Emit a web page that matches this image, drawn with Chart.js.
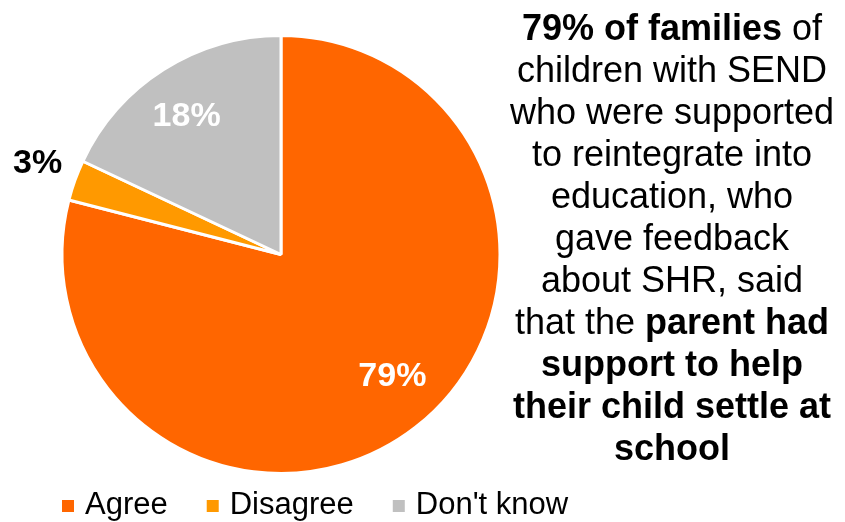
<!DOCTYPE html>
<html>
<head>
<meta charset="utf-8">
<script src="https://cdn.jsdelivr.net/npm/chart.js@4/dist/chart.umd.min.js"></script>
<style>
    html, body { margin: 0; padding: 0; background: #fff; overflow: hidden; }
    #wrap { position: relative; width: 845px; height: 522px; }
    #note {
        position: absolute; left: 502px; top: 7px; width: 340px;
        text-align: center; font-family: 'Liberation Sans', Arial, sans-serif;
        font-size: 36px; line-height: 42px; color: #000;
    }
    #note b { font-weight: bold; }
</style>
</head>
<body>
<div id="wrap">
    <canvas id="myChart" width="845" height="522"></canvas>
    <div id="note">
        <b>79% of families</b> of<br>children with SEND<br>who were supported<br>to reintegrate into<br>education, who<br>gave feedback<br>about SHR, said<br>that the <b>parent had<br>support to help<br>their child settle at<br>school</b>
    </div>
</div>
<script>
// данные
var categories = ['Agree', 'Disagree', "Don't know"];
var values = [79, 3, 18];
var labels = ['79%', '3%', '18%'];
var colors = ['#FF6600', '#FF9900', '#C0C0C0'];

var font = "'Liberation Sans', Arial, sans-serif";

// подписи на секторах и легенда
var pieText = {
    id: 'pieText',
    afterDraw: function(chart) {
        var ctx = chart.ctx;
        var arcs = chart.getDatasetMeta(0).data;
        // небольшие сдвиги подписей, как в Excel
        var shift = [[8, -11], [6, -1], [-4, 5]];
        ctx.save();
        ctx.font = 'bold 34px ' + font;
        ctx.textAlign = 'center';
        ctx.textBaseline = 'middle';
        arcs.forEach(function(arc, i) {
            var mid = (arc.startAngle + arc.endAngle) / 2;
            var outside = values[i] < 5;
            var r = arc.outerRadius * (outside ? 1.21 : 0.77);
            ctx.fillStyle = outside ? '#000' : '#fff';
            ctx.fillText(labels[i], arc.x + Math.cos(mid) * r + shift[i][0],
                arc.y + Math.sin(mid) * r + shift[i][1]);
        });

        // легенда
        ctx.font = '31px ' + font;
        ctx.textAlign = 'left';
        ctx.textBaseline = 'alphabetic';
        var x = 62;
        categories.forEach(function(name, i) {
            ctx.fillStyle = colors[i];
            ctx.fillRect(x, 500, 12, 12);
            x += 23;
            ctx.fillStyle = '#000';
            ctx.fillText(name, x, 514);
            x += ctx.measureText(name).width + 39;
        });
        ctx.restore();
    }
};

new Chart(document.getElementById('myChart').getContext('2d'), {
    type: 'pie',
    data: {
        labels: categories,
        datasets: [{
            data: values,
            backgroundColor: colors,
            borderColor: '#fff',
            borderWidth: 3
        }]
    },
    options: {
        responsive: false,
        animation: false,
        radius: 219,
        layout: { padding: { left: 40, right: 323, top: 30, bottom: 43 } },
        plugins: {
            legend: { display: false },
            tooltip: { enabled: false }
        }
    },
    plugins: [pieText]
});
</script>
</body>
</html>
